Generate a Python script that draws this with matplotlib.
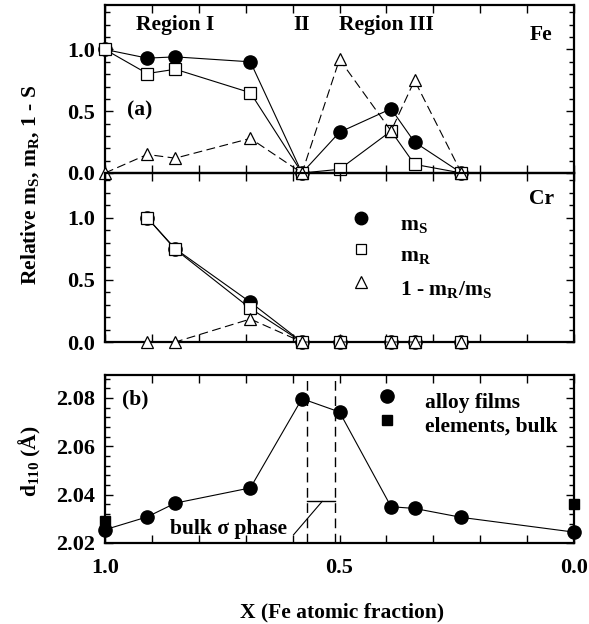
import matplotlib
matplotlib.use("Agg")
import matplotlib.pyplot as plt
import numpy as np

plt.rcParams['font.family'] = 'Liberation Serif'
plt.rcParams['font.weight'] = 'bold'
plt.rcParams['mathtext.fontset'] = 'custom'
plt.rcParams['mathtext.rm'] = 'Liberation Serif:bold'
plt.rcParams['mathtext.it'] = 'Liberation Serif:bold'
plt.rcParams['mathtext.bf'] = 'Liberation Serif:bold'

# ---- data ----
x_fe = [1.0, 0.91, 0.85, 0.69, 0.58, 0.50, 0.39, 0.34, 0.24]
fe_ms = [1.0, 0.93, 0.94, 0.90, 0.0, 0.33, 0.52, 0.25, 0.0]
fe_mr = [1.0, 0.805, 0.84, 0.65, 0.0, 0.03, 0.34, 0.07, 0.0]
fe_1s = [0.0, 0.15, 0.12, 0.28, 0.0, 0.92, 0.34, 0.75, 0.0]

x_cr = [0.91, 0.85, 0.69, 0.58, 0.50, 0.39, 0.34, 0.24]
cr_ms = [1.0, 0.75, 0.32, 0.0, 0.0, 0.0, 0.0, 0.0]
cr_mr = [1.0, 0.745, 0.27, 0.0, 0.0, 0.0, 0.0, 0.0]
cr_1s = [0.0, 0.0, 0.185, 0.0, 0.0, 0.0, 0.0, 0.0]

x_d = [1.0, 0.91, 0.85, 0.69, 0.58, 0.50, 0.39, 0.34, 0.24, 0.0]
d110 = [2.0255, 2.0308, 2.0365, 2.0428, 2.0797, 2.0742, 2.0350, 2.0343, 2.0306, 2.0245]
x_bulk = [1.0, 0.0]
d_bulk = [2.029, 2.0363]

sigma_lo, sigma_hi = 0.51, 0.57
sigma_d = 2.0372

W, H = 589, 624
fig = plt.figure(figsize=(W/100, H/100), dpi=100)

def ax_px(l, t, r, b):
    return fig.add_axes([l/W, 1-b/H, (r-l)/W, (b-t)/H])

ax1 = ax_px(105, 5, 574, 173)
ax2 = ax_px(105, 173, 574, 342)
ax3 = ax_px(105, 375, 574, 543)

FS = 15.5
TFS = 16
mk = dict(clip_on=False)
for ax, xs, ms, mr, s1 in [(ax1, x_fe, fe_ms, fe_mr, fe_1s), (ax2, x_cr, cr_ms, cr_mr, cr_1s)]:
    ax.plot(xs, ms, ls='-', color='black', lw=0.8, marker='o', ms=9.5,
            mfc='black', mec='black', zorder=3, **mk)
    ax.plot(xs, mr, ls='-', color='black', lw=0.8, marker='s', ms=8,
            mfc='white', mec='black', mew=0.9, zorder=4, **mk)
    ax.plot(xs, s1, ls=(0, (8, 4)), color='black', lw=0.8, marker='^', ms=9,
            mfc='white', mec='black', mew=0.9, zorder=5, **mk)
    ax.set_ylim(0, 1.36)
    ax.set_yticks([0, 0.5, 1.0])
    ax.set_yticks(np.arange(0, 1.36, 0.1), minor=True)

ax3.plot(x_d, d110, '-', color='black', lw=0.8, marker='o', ms=9.5, mfc='black', zorder=3, **mk)
ax3.plot(x_bulk, d_bulk, 's', color='black', ms=7.5, zorder=4, **mk)
ax3.set_ylim(2.02, 2.0895)
ax3.set_yticks([2.02, 2.04, 2.06, 2.08])
ax3.set_yticks(np.arange(2.02, 2.089, 0.004), minor=True)
ax3.axvline(sigma_lo, color='black', lw=1.0, ls=(0, (7, 4)))
ax3.axvline(sigma_hi, color='black', lw=1.0, ls=(0, (7, 4)))
ax3.plot([sigma_hi, sigma_lo], [sigma_d, sigma_d], color='black', lw=1.0)
ax3.plot([0.537, 0.598], [sigma_d, 2.0234], color='black', lw=0.8)
ax3.text(0.862, 2.0256, 'bulk σ phase', fontsize=FS, ha='left', va='center')
ax3.yaxis.set_major_formatter(matplotlib.ticker.FormatStrFormatter('%.2f'))

for ax in (ax1, ax2, ax3):
    ax.set_xlim(1.0, 0.0)
    ax.set_xticks(np.arange(0, 1.01, 0.1))
    ax.tick_params(which='both', direction='in', top=True, right=True, width=1.0)
    ax.tick_params(which='major', length=6)
    ax.tick_params(which='minor', length=3.5)
    ax.tick_params(axis='both', labelsize=TFS, pad=7)
    for sp in ax.spines.values():
        sp.set_linewidth(1.6)
    ax.set_facecolor('none')

for ax in (ax1, ax2):
    ax.set_xticklabels([])
ax3.set_xticklabels(['0.0', '', '', '', '', '0.5', '', '', '', '', '1.0'])
ax3.tick_params(axis='x', pad=11)

# texts
ax1.text(0.851, 1.2, 'Region I', fontsize=FS, ha='center', va='center')
ax1.text(0.58, 1.2, 'II', fontsize=FS, ha='center', va='center')
ax1.text(0.4, 1.2, 'Region III', fontsize=FS, ha='center', va='center')
ax1.text(0.07, 1.12, 'Fe', fontsize=FS, ha='center', va='center')
ax1.text(0.925, 0.51, '(a)', fontsize=FS, ha='center', va='center')
ax2.text(0.07, 1.15, 'Cr', fontsize=FS, ha='center', va='center')
ax3.text(0.935, 2.0795, '(b)', fontsize=FS, ha='center', va='center')

# legend panel (a)
ax2.plot([0.545], [0.732], 'o', color='black', ms=9, transform=ax2.transAxes)
ax2.plot([0.545], [0.550], 's', mfc='white', mec='black', mew=0.9, ms=7.5, transform=ax2.transAxes)
ax2.plot([0.545], [0.355], '^', mfc='white', mec='black', mew=0.9, ms=8.5, transform=ax2.transAxes)
ax2.text(0.629, 0.663, r'm$_\mathrm{S}$', fontsize=FS, transform=ax2.transAxes, va='baseline')
ax2.text(0.629, 0.479, r'm$_\mathrm{R}$', fontsize=FS, transform=ax2.transAxes, va='baseline')
ax2.text(0.629, 0.278, r'1 - m$_\mathrm{R}$/m$_\mathrm{S}$', fontsize=FS, transform=ax2.transAxes, va='baseline')

# legend panel (b)
ax3.plot([0.601], [0.877], 'o', color='black', ms=9.5, transform=ax3.transAxes)
ax3.plot([0.601], [0.732], 's', color='black', ms=7.5, transform=ax3.transAxes)
ax3.text(0.682, 0.804, 'alloy films', fontsize=FS, transform=ax3.transAxes, va='baseline')
ax3.text(0.682, 0.664, 'elements, bulk', fontsize=FS, transform=ax3.transAxes, va='baseline')

fig.text(30/W, 1-185/H, r'Relative m$_\mathrm{S}$, m$_\mathrm{R}$, 1 - S', fontsize=FS,
         rotation=90, ha='center', va='center')
fig.text(30/W, 1-461/H, r'd$_\mathrm{110}$ (Å)', fontsize=FS, rotation=90, ha='center', va='center')
fig.text(342/W, 1-612/H, 'X (Fe atomic fraction)', fontsize=FS, ha='center', va='center')

fig.savefig('out.png', dpi=100)
